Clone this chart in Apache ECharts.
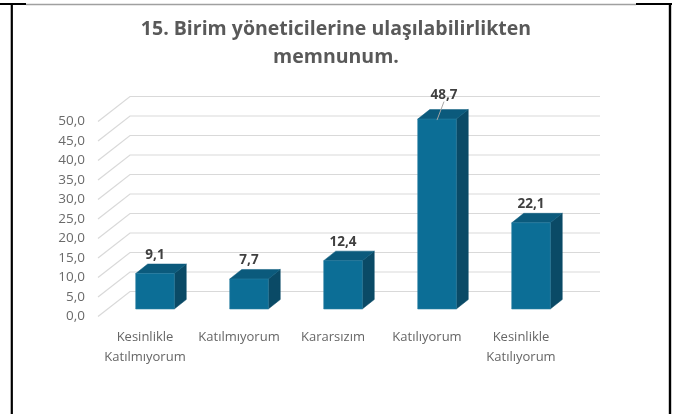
<!DOCTYPE html>
<html>
<head>
<meta charset="utf-8">
<script src="https://cdn.jsdelivr.net/npm/echarts@6/dist/echarts.min.js"></script>
<style>
  html, body { margin: 0; padding: 0; background: #fff; }
  #chart { width: 686px; height: 414px; }
</style>
</head>
<body>
<div id="chart"></div>
<script>
// data
var categories = ['Kesinlikle\nKatılmıyorum', 'Katılmıyorum', 'Kararsızım', 'Katılıyorum', 'Kesinlikle\nKatılıyorum'];
var values = [9.1, 7.7, 12.4, 48.7, 22.1];
var yTicks = [0, 5, 10, 15, 20, 25, 30, 35, 40, 45, 50];
var titleText = '15. Birim yöneticilerine ulaşılabilirlikten\nmemnunum.';

var FONT = "'Open Sans', sans-serif";
// oblique depth: whole wall and the bars inside it
var WALL = [32, -25];
var BAR_OFF = [10, -7.5];
var BAR_DEPTH = [12, -9.5];

function fmt(v) {
    return v.toFixed(1).replace('.', ',');
}

var chart = echarts.init(document.getElementById('chart'));

var barData = values.map(function (v, i) { return [i, v]; });
var tickData = yTicks.map(function (t) { return [0, t]; });

var option = {
    animation: false,
    backgroundColor: '#fff',
    title: {
        text: titleText,
        left: 331,
        textAlign: 'center',
        top: 10,
        textStyle: {
            fontFamily: FONT,
            fontSize: 19.5,
            fontWeight: 'bold',
            color: '#595959',
            lineHeight: 28
        }
    },
    grid: {
        left: 98,
        right: 118,
        top: 121.5,
        bottom: 97.5
    },
    xAxis: {
        type: 'category',
        data: categories,
        axisLine: {show: false},
        axisTick: {show: false},
        axisLabel: {
            margin: 11,
            fontFamily: FONT,
            fontSize: 13,
            color: '#666',
            lineHeight: 20,
            interval: 0
        }
    },
    yAxis: {
        type: 'value',
        min: 0,
        max: 50,
        interval: 5,
        axisLine: {show: false},
        axisTick: {show: false},
        splitLine: {show: false},
        axisLabel: {
            margin: 13,
            fontFamily: FONT,
            fontSize: 13.5,
            color: '#6a6a6a',
            formatter: function (v) { return fmt(v); }
        }
    },
    series: [
        {
            // back wall gridlines + side diagonals
            type: 'custom',
            data: tickData,
            silent: true,
            z: 1,
            renderItem: function (params, api) {
                var cs = params.coordSys;
                var y = api.coord([0, api.value(1)])[1];
                var x0 = cs.x;
                return {
                    type: 'polyline',
                    shape: {
                        points: [
                            [x0, y],
                            [x0 + WALL[0], y + WALL[1]],
                            [x0 + cs.width + WALL[0], y + WALL[1]]
                        ]
                    },
                    style: {stroke: '#d9d9d9', lineWidth: 1.2, fill: null}
                };
            }
        },
        {
            type: 'custom',
            data: barData,
            z: 3,
            renderItem: function (params, api) {
                var idx = api.value(0);
                var v = api.value(1);
                var base = api.coord([idx, 0]);
                var topPt = api.coord([idx, v]);
                var w = api.size([1, 0])[0] * 0.41;
                var cx = base[0] + BAR_OFF[0];
                var x0 = cx - w / 2, x1 = cx + w / 2;
                var yb = base[1] + BAR_OFF[1];
                var yt = topPt[1] + BAR_OFF[1];
                var dx = BAR_DEPTH[0], dy = BAR_DEPTH[1];
                var children = [
                    {
                        type: 'polygon',
                        shape: {points: [[x1, yt], [x1 + dx, yt + dy], [x1 + dx, yb + dy], [x1, yb]]},
                        style: {fill: '#0a4a66', stroke: '#0a4a66', lineWidth: 0.5}
                    },
                    {
                        type: 'polygon',
                        shape: {points: [[x0, yt], [x1, yt], [x1 + dx, yt + dy], [x0 + dx, yt + dy]]},
                        style: {fill: '#0b5a7c', stroke: '#0b5a7c', lineWidth: 0.5}
                    },
                    {
                        type: 'rect',
                        shape: {x: x0, y: yt, width: w, height: yb - yt},
                        style: {fill: '#0c6e96', stroke: '#2a7fa3', lineWidth: 0.6}
                    }
                ];
                var labelY = yt + dy - 9;
                var labelX = cx;
                if (v > 45) {
                    // too close to the top: pushed up with a small leader line
                    labelY = yt + dy - 14;
                    labelX = cx + 7;
                    children.push({
                        type: 'line',
                        shape: {x1: labelX, y1: labelY + 6, x2: cx, y2: yt + 1},
                        style: {stroke: '#a6a6a6', lineWidth: 1}
                    });
                }
                children.push({
                    type: 'text',
                    x: labelX,
                    y: labelY,
                    style: {
                        text: fmt(v),
                        align: 'center',
                        verticalAlign: 'middle',
                        fontFamily: FONT,
                        fontSize: 13.5,
                        fontWeight: 'bold',
                        fill: '#404040'
                    }
                });
                return {type: 'group', children: children};
            }
        }
    ],
    graphic: [
        {type: 'line', shape: {x1: 0, y1: 4, x2: 26, y2: 4}, style: {stroke: '#000', lineWidth: 2}},
        {type: 'line', shape: {x1: 26, y1: 4.6, x2: 636, y2: 4.6}, style: {stroke: '#a0a0a0', lineWidth: 1.5}},
        {type: 'line', shape: {x1: 636, y1: 4, x2: 672, y2: 4}, style: {stroke: '#000', lineWidth: 2}},
        {type: 'line', shape: {x1: 11.8, y1: 3, x2: 11.8, y2: 414}, style: {stroke: '#000', lineWidth: 2.2}},
        {type: 'line', shape: {x1: 670, y1: 3, x2: 670, y2: 414}, style: {stroke: '#000', lineWidth: 2.4}}
    ]
};

chart.setOption(option);
</script>
</body>
</html>
